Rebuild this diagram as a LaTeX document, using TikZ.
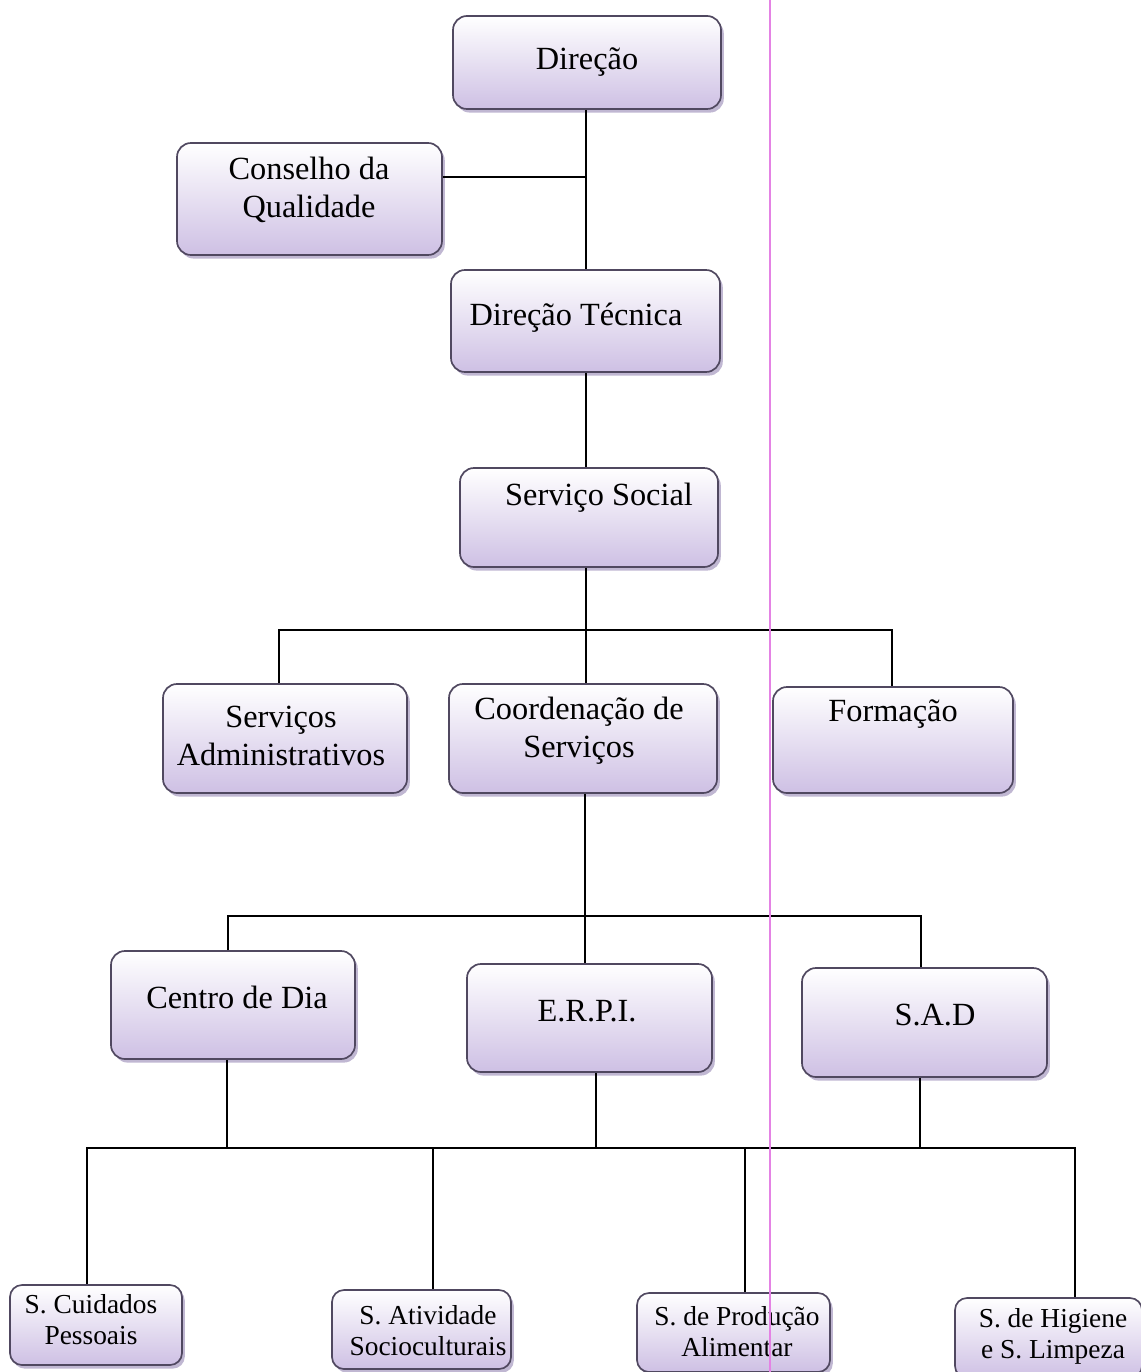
\documentclass[tikz,border=0pt]{standalone}
\usepackage{fontspec}
\setmainfont{Liberation Serif}
\usetikzlibrary{shadows}

\definecolor{boxBorder}{RGB}{80,72,96}
\definecolor{boxBottom}{RGB}{206,192,228}
\definecolor{shadowTint}{RGB}{185,175,205}
\definecolor{marginPink}{RGB}{228,130,228}

\begin{document}
\begin{tikzpicture}
    [x = 0.25mm, y = -0.25mm,
     unitBox/.style = {rectangle, rounded corners = 3.5mm, draw =
                       boxBorder, line width = 1.2pt, top color = white,
                       bottom color = boxBottom, inner sep = 0pt,
                       drop shadow = {shadow xshift = 0.7mm, shadow
                       yshift = -0.9mm, fill = shadowTint, opacity = 0.9}},
     smallBox/.style = {unitBox, rounded corners = 3mm},
     boxSize/.style 2 args = {minimum width = #1*0.25mm,
                              minimum height = #2*0.25mm},
     bigText/.style = {inner sep = 0pt, align = center,
                       font = \fontsize{23}{27}\selectfont},
     smallText/.style = {inner sep = 0pt, align = center,
                         font = \fontsize{19.5}{22}\selectfont},
     link/.style = {line width = 1.2pt},
     marginLine/.style = {marginPink, line width = 0.8pt}]

    \useasboundingbox (0,0) rectangle (1140,1372);

    % upper levels
    \node at (587,   62.5) [unitBox, boxSize = {268}{93}]  (dir) {};
    \node at (309.5, 199)  [unitBox, boxSize = {265}{112}] (cons) {};
    \node at (585.5, 321)  [unitBox, boxSize = {269}{102}] (tec) {};
    \node at (589,   517.5)[unitBox, boxSize = {258}{99}]  (soc) {};

    \node at (285,   738.5)[unitBox, boxSize = {244}{109}] (adm) {};
    \node at (583,   738.5)[unitBox, boxSize = {268}{109}] (coord) {};
    \node at (893,   740)  [unitBox, boxSize = {240}{106}] (form) {};

    \node at (233,   1005) [unitBox, boxSize = {244}{108}] (centro) {};
    \node at (589.5, 1018) [unitBox, boxSize = {245}{108}] (erpi) {};
    \node at (924.5, 1022.5)[unitBox, boxSize = {245}{109}] (sad) {};

    % bottom level
    \node at (96,    1325)  [smallBox, boxSize = {172}{80}] (cuid) {};
    \node at (421.5, 1329.5)[smallBox, boxSize = {179}{79}] (ativ) {};
    \node at (733.5, 1332.5)[smallBox, boxSize = {193}{79}] (prod) {};
    \node at (1048.5,1338)  [smallBox, boxSize = {187}{80}] (hig) {};

    % texts
    \node at (587, 62)   [bigText] (dirText)    {Direção};
    \node at (309, 190)  [bigText] (consText)   {Conselho da\\Qualidade};
    \node at (576, 318)  [bigText] (tecText)    {Direção Técnica};
    \node at (599, 498)  [bigText] (socText)    {Serviço Social};
    \node at (281, 736)  [bigText] (admText)    {Serviços\\Administrativos};
    \node at (579, 731)  [bigText] (coordText)  {Coordenação de\\Serviços};
    \node at (893, 714)  [bigText] (formText)   {Formação};
    \node at (237, 997)  [bigText] (centroText) {Centro de Dia};
    \node at (587, 1011) [bigText] (erpiText)   {E.R.P.I.};
    \node at (935, 1015) [bigText] (sadText)    {S.A.D};

    \node at (91,   1320) [smallText] (cuidText) {S. Cuidados\\Pessoais};
    \node at (428,  1331) [smallText] (ativText) {S. Atividade\\Socioculturais};
    \node at (737,  1332) [smallText] (prodText) {S. de Produção\\Alimentar};
    \node at (1053, 1336) [smallText] (higText)  {S. de Higiene\\e S. Limpeza};

    % junctions
    \coordinate (qualJoin) at (586, 177);
    \coordinate (busA)     at (586, 630);
    \coordinate (busAL)    at (279, 630);
    \coordinate (busAR)    at (892, 630);
    \coordinate (busBL)    at (228, 916);
    \coordinate (busBM)    at (585, 916);
    \coordinate (busBR)    at (921, 916);
    \coordinate (busCL)    at (87, 1148);
    \coordinate (busCR)    at (1075, 1148);
    \coordinate (upCentro) at (227, 1148);
    \coordinate (upErpi)   at (596, 1148);
    \coordinate (upSad)    at (920, 1148);
    \coordinate (dropAtiv) at (433, 1148);
    \coordinate (dropProd) at (745, 1148);

    \draw [link] (dir.south -| qualJoin) -- (tec.north -| qualJoin);
    \draw [link] (cons.east |- qualJoin) -- (qualJoin);

    \draw [link] (tec.south -| busA) -- (soc.north -| busA);
    \draw [link] (soc.south -| busA) -- (coord.north -| busA);
    \draw [link] (adm.north -| busAL) -- (busAL) -- (busAR)
                 -- (form.north -| busAR);

    \draw [link] (coord.south -| busBM) -- (erpi.north -| busBM);
    \draw [link] (centro.north -| busBL) -- (busBL) -- (busBR)
                 -- (sad.north -| busBR);

    \draw [link] (centro.south -| upCentro) -- (upCentro);
    \draw [link] (erpi.south -| upErpi) -- (upErpi);
    \draw [link] (sad.south -| upSad) -- (upSad);
    \draw [link] (cuid.north -| busCL) -- (busCL) -- (busCR)
                 -- (hig.north -| busCR);
    \draw [link] (dropAtiv) -- (ativ.north -| dropAtiv);
    \draw [link] (dropProd) -- (prod.north -| dropProd);

    % scan margin
    \draw [marginLine] (770,0) -- (770,1372);
\end{tikzpicture}
\end{document}
